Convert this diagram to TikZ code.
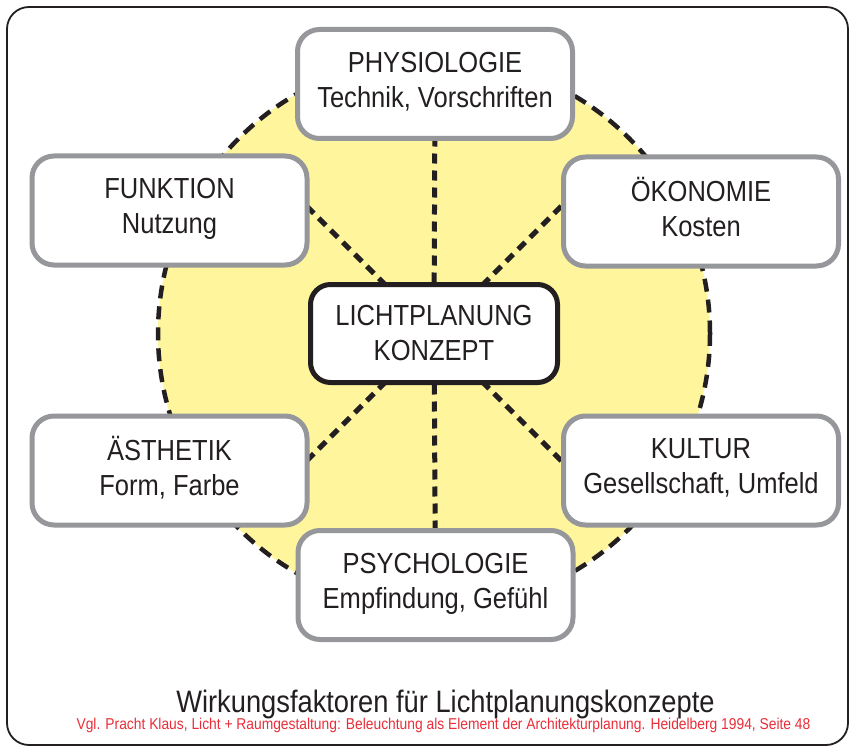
\documentclass[tikz,border=0pt]{standalone}
\usepackage{fontspec}
\setmainfont{Liberation Sans}[FakeStretch=0.88]
\usetikzlibrary{calc}
\definecolor{ink}{RGB}{35,31,32}
\definecolor{rimgray}{RGB}{150,151,155}
\definecolor{lightyellow}{RGB}{255,245,157}
\definecolor{sourcered}{RGB}{234,45,56}
\pgfdeclarelayer{back}
\pgfdeclarelayer{spokes}
\pgfsetlayers{back,spokes,main}

\begin{document}
\begin{tikzpicture}[
		x=1pt, y=-1pt,
		every node/.style={text=ink, font=\fontsize{29}{35}\selectfont, align=center},
		factor/.style={draw=rimgray, line width=5pt, fill=white, rounded corners=22pt,
			minimum width=275pt, minimum height=109pt, inner sep=0pt,
			execute at begin node={\rule{0pt}{30pt}},
			execute at end node={\rule[-9pt]{0pt}{9pt}}},
		core/.style={draw=ink, line width=5pt, fill=white, rounded corners=20pt,
			minimum width=247pt, minimum height=98pt, inner sep=0pt},
		spoke/.style={draw=ink, line width=5pt, dash pattern=on 10pt off 7pt}
		]
		\useasboundingbox (0,0) rectangle (854,749);
		\draw[ink, line width=1.8pt, rounded corners=22pt] (7,7) rectangle (848,745);

		% boxes
		\node[core] (core) at (434,333.5) {LICHTPLANUNG\\KONZEPT};
		\node[factor] (phys) at (435,84) {PHYSIOLOGIE\\Technik, Vorschriften};
		\node[factor] (funk) at (169.5,210.5) {FUNKTION\\Nutzung};
		\node[factor] (oeko) at (701,211.5) {ÖKONOMIE\\Kosten};
		\node[factor] (aest) at (169.5,470.5) {ÄSTHETIK\\Form, Farbe};
		\node[factor] (kult) at (701,470.5) {KULTUR\\Gesellschaft, Umfeld};
		\node[factor] (psych) at (435.5,585) {PSYCHOLOGIE\\Empfindung, Gefühl};

		% yellow disc and spokes behind the boxes
		\begin{pgfonlayer}{back}
			\fill[lightyellow] (core.center) circle[radius=276pt];
			\draw[ink, line width=4.5pt, dash pattern=on 13pt off 8pt] (core.center) circle[radius=276pt];
		\end{pgfonlayer}
		\coordinate (funk-end) at ($(core.center)+(-150,-150)$);
		\coordinate (oeko-end) at ($(core.center)+(150,-150)$);
		\coordinate (aest-end) at ($(core.center)+(-150,150)$);
		\coordinate (kult-end) at ($(core.center)+(150,150)$);
		\begin{pgfonlayer}{spokes}
			\draw[spoke] (core.center) -- (phys);
			\draw[spoke] (core.center) -- (psych);
			\draw[spoke] (core.center) -- (funk-end);
			\draw[spoke] (core.center) -- (oeko-end);
			\draw[spoke] (core.center) -- (aest-end);
			\draw[spoke] (core.center) -- (kult-end);
		\end{pgfonlayer}

		% caption
		\node[anchor=base, font=\fontsize{31}{36}\selectfont] (title) at (445.5,712) {Wirkungsfaktoren für Lichtplanungskonzepte};
		\node[anchor=base, text=sourcered, font=\fontsize{15.7}{18}\selectfont] (source) at (443.5,729) {Vgl. Pracht Klaus, Licht + Raumgestaltung: Beleuchtung als Element der Architekturplanung. Heidelberg 1994, Seite 48};
\end{tikzpicture}
\end{document}
